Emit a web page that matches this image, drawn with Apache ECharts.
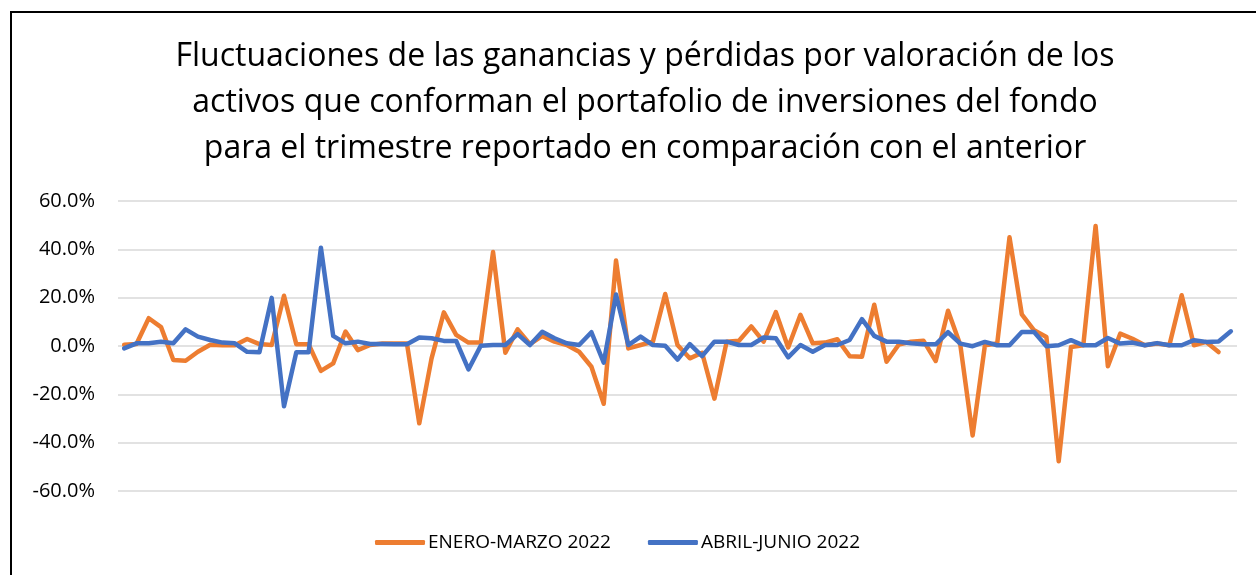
<!DOCTYPE html>
<html>
<head>
<meta charset="utf-8">
<script src="https://cdn.jsdelivr.net/npm/echarts@6/dist/echarts.min.js"></script>
<style>
  html, body { margin: 0; padding: 0; background: #fff; }
  #frame { position: absolute; left: 10px; top: 11px; width: 1260px; height: 580px; border: 2px solid #000; box-sizing: border-box; }
  #chart { position: absolute; left: 0; top: 0; width: 1256px; height: 575px; }
</style>
</head>
<body>
<div id="frame"></div>
<div id="chart"></div>
<script>
// 91 puntos por serie (valores en %)
const titleLines = [
    'Fluctuaciones de las ganancias y pérdidas por valoración de los',
    'activos que conforman el portafolio de inversiones del fondo',
    'para el trimestre reportado en comparación con el anterior',
];

const seriesNames = ['ENERO-MARZO 2022', 'ABRIL-JUNIO 2022'];

const eneroMarzo = [
    0.5, 0.8, 11.5, 7.8, -5.8, -6.1, -2.4, 0.5, 0.3, 0.3,
    2.9, 0.8, 0.4, 20.8, 0.7, 0.7, -10.3, -7.2, 6.0, -1.7,
    0.4, 1.0, 1.0, 1.0, -32.0, -5.1, 13.9, 4.6, 1.4, 1.4,
    38.9, -2.8, 6.9, 0.8, 4.2, 1.8, 0.4, -2.4, -8.6, -23.9,
    35.4, -1.0, 0.4, 1.8, 21.5, 0.4, -5.1, -2.8, -21.8, 1.8,
    2.2, 8.1, 1.8, 14.0, -0.6, 12.9, 1.1, 1.4, 2.8, -4.2,
    -4.4, 17.1, -6.5, 0.6, 1.8, 2.2, -6.2, 14.6, 0.4, -37.0,
    0.3, 1.0, 45.0, 13.1, 6.5, 3.7, -47.7, -0.4, 0.3, 49.7,
    -8.4, 5.1, 3.0, 0.3, 1.0, 0.3, 21.0, 0.3, 1.7, -2.5,
    null,
];

const abrilJunio = [
    -1.0, 1.1, 1.1, 1.8, 1.1, 6.9, 3.9, 2.5, 1.4, 1.1,
    -2.4, -2.6, 19.9, -24.9, -2.6, -2.6, 40.7, 4.2, 1.1, 1.8,
    0.8, 0.8, 0.7, 0.7, 3.5, 3.2, 2.1, 2.1, -9.7, 0.1,
    0.4, 0.4, 4.9, 0.4, 5.9, 3.2, 1.1, 0.4, 5.7, -6.9,
    21.3, 0.4, 3.9, 0.4, 0.1, -5.6, 0.8, -4.2, 1.8, 1.8,
    0.4, 0.4, 3.5, 3.2, -4.7, 0.4, -2.4, 0.4, 0.4, 2.5,
    11.1, 4.2, 1.8, 1.8, 1.1, 0.7, 0.7, 5.7, 1.0, -0.1,
    1.7, 0.3, 0.3, 5.8, 5.8, -0.1, 0.3, 2.4, 0.3, 0.3,
    3.3, 1.0, 1.4, 0.3, 1.2, 0.3, 0.3, 2.4, 1.7, 1.9,
    6.1,
];

const categories = abrilJunio.map((_, i) => String(i + 1));

const yTicks = { min: -60, max: 60, interval: 20 };

const FONT = '"Open Sans", "Noto Sans", sans-serif';
const ORANGE = '#ED7D31';
const BLUE = '#4472C4';

const chart = echarts.init(document.getElementById('chart'), null, { renderer: 'canvas' });

chart.setOption({
    animation: false,
    backgroundColor: 'transparent',
    title: {
        text: titleLines.join('\n'),
        left: 640,
        top: 29,
        textAlign: 'center',
        textStyle: { fontFamily: FONT, fontSize: 32, fontWeight: 'normal', color: '#000', lineHeight: 46 },
    },
    legend: {
        bottom: 18,
        left: 370,
        itemWidth: 50,
        itemHeight: 5,
        itemGap: 37,
        icon: 'roundRect',
        textStyle: { fontFamily: FONT, fontSize: 19, color: '#000', padding: [0, 0, 0, -2] },
        data: seriesNames,
    },
    grid: { left: 118, right: 19, top: 201, bottom: 84, containLabel: false },
    xAxis: {
        type: 'category',
        data: categories,
        boundaryGap: true,
        axisLine: { show: false },
        axisTick: { show: false },
        axisLabel: { show: false },
        splitLine: { show: false },
    },
    yAxis: {
        type: 'value',
        min: yTicks.min,
        max: yTicks.max,
        interval: yTicks.interval,
        axisLine: { show: false },
        axisTick: { show: false },
        axisLabel: {
            margin: 23,
            fontFamily: FONT,
            fontSize: 20,
            color: '#000',
            formatter: v => v.toFixed(1) + '%',
        },
        splitLine: { lineStyle: { color: '#d9d9d9', width: 1.5 } },
    },
    series: [
        {
            name: seriesNames[0],
            type: 'line',
            data: eneroMarzo,
            showSymbol: false,
            symbol: 'none',
            lineStyle: { color: ORANGE, width: 4.5, cap: 'round', join: 'round' },
            itemStyle: { color: ORANGE },
        },
        {
            name: seriesNames[1],
            type: 'line',
            data: abrilJunio,
            showSymbol: false,
            symbol: 'none',
            lineStyle: { color: BLUE, width: 4.5, cap: 'round', join: 'round' },
            itemStyle: { color: BLUE },
        },
    ],
});
</script>
</body>
</html>
